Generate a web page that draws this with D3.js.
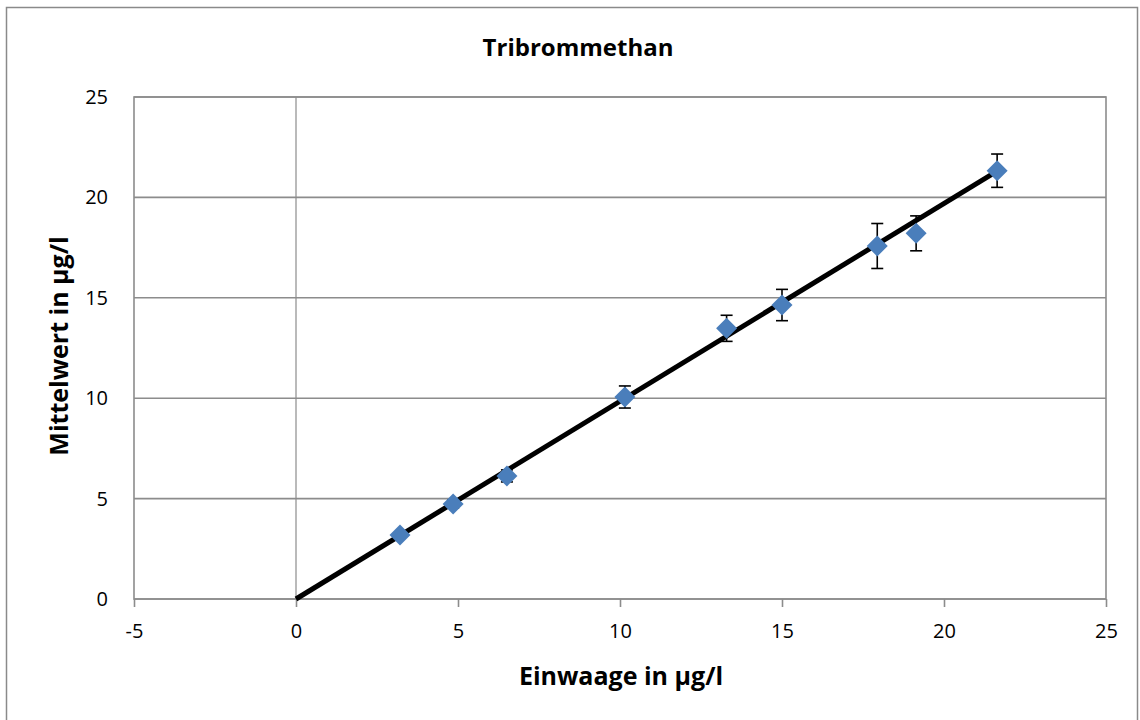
<!DOCTYPE html>
<html>
<head>
<meta charset="utf-8">
<script src="https://cdn.jsdelivr.net/npm/d3@7"></script>
<style>
  body { margin: 0; background: #fff; }
  text { font-family: "Open Sans", "Noto Sans", sans-serif; }
</style>
</head>
<body>
<svg id="chart" width="1140" height="720"></svg>
<script>
// data
var einwaage   = [3.21, 4.85, 6.51, 10.15, 13.29, 15.0, 17.94, 19.14, 21.64];
var mittelwert = [3.19, 4.73, 6.13, 10.06, 13.48, 14.64, 17.58, 18.21, 21.33];
var fehler     = [0.15, 0.2, 0.3, 0.55, 0.65, 0.78, 1.12, 0.87, 0.83];
var xTicks = [-5, 0, 5, 10, 15, 20, 25];
var yTicks = [0, 5, 10, 15, 20, 25];
var trendSlope = 0.985;
var trendX = [0, 21.6];

var svg = d3.select("#chart"),
    margin = {top: 97, right: 34, bottom: 121, left: 134},
    width = 1140 - margin.left - margin.right,
    height = 720 - margin.top - margin.bottom;

// outer chart frame (runs off the bottom of the picture)
svg.append("rect")
  .attr("x", 6.5).attr("y", 7.5)
  .attr("width", 1131).attr("height", 740)
  .attr("fill", "none")
  .attr("stroke", "#8a8a8a")
  .attr("stroke-width", 1.5);

var x = d3.scaleLinear().domain([-5, 25]).range([0, width]),
    y = d3.scaleLinear().domain([0, 25]).range([height, 0]);

var g = svg.append("g")
  .attr("transform", "translate(" + margin.left + "," + margin.top + ")");

// horizontal grid lines
g.selectAll(".grid")
  .data(yTicks)
  .enter().append("line")
    .attr("class", "grid")
    .attr("x1", 0).attr("x2", width)
    .attr("y1", function(d) { return y(d); })
    .attr("y2", function(d) { return y(d); })
    .attr("stroke", "#8c8c8c")
    .attr("stroke-width", 1.6);

// plot area border
g.append("rect")
  .attr("width", width).attr("height", height)
  .attr("fill", "none")
  .attr("stroke", "#8c8c8c")
  .attr("stroke-width", 1.6);

// vertical axis crossing at 0
g.append("line")
  .attr("x1", x(0)).attr("x2", x(0))
  .attr("y1", 0).attr("y2", height)
  .attr("stroke", "#8c8c8c")
  .attr("stroke-width", 1.2);

// x axis ticks + labels (plain hyphen for negatives like the original)
var fmt = function(d) { return String(d); };
var xAxis = g.append("g")
  .attr("transform", "translate(0," + height + ")")
  .call(d3.axisBottom(x).tickValues(xTicks).tickFormat(fmt).tickSize(8).tickPadding(17));
xAxis.select(".domain").remove();
xAxis.selectAll("line").attr("stroke", "#8c8c8c").attr("stroke-width", 1.6);
xAxis.selectAll("text").attr("font-size", "20px").attr("fill", "#000");

// y axis labels
var yAxis = g.append("g")
  .call(d3.axisLeft(y).tickValues(yTicks).tickFormat(fmt).tickSize(0).tickPadding(26));
yAxis.select(".domain").remove();
yAxis.selectAll("text").attr("font-size", "20px").attr("fill", "#000");

// trend line
g.append("line")
  .attr("x1", x(trendX[0])).attr("y1", y(trendX[0] * trendSlope))
  .attr("x2", x(trendX[1])).attr("y2", y(trendX[1] * trendSlope))
  .attr("stroke", "#000")
  .attr("stroke-width", 5);

var pts = einwaage.map(function(d, i) {
  return {x: d, y: mittelwert[i], e: fehler[i]};
});

// error bars
var eb = g.selectAll(".err")
  .data(pts)
  .enter().append("g")
    .attr("class", "err")
    .attr("stroke", "#000")
    .attr("stroke-width", 1.6);
eb.append("line")
  .attr("x1", function(d) { return x(d.x); })
  .attr("x2", function(d) { return x(d.x); })
  .attr("y1", function(d) { return y(d.y + d.e); })
  .attr("y2", function(d) { return y(d.y - d.e); });
eb.append("line")
  .attr("x1", function(d) { return x(d.x) - 6; })
  .attr("x2", function(d) { return x(d.x) + 6; })
  .attr("y1", function(d) { return y(d.y + d.e); })
  .attr("y2", function(d) { return y(d.y + d.e); });
eb.append("line")
  .attr("x1", function(d) { return x(d.x) - 6; })
  .attr("x2", function(d) { return x(d.x) + 6; })
  .attr("y1", function(d) { return y(d.y - d.e); })
  .attr("y2", function(d) { return y(d.y - d.e); });

// diamond markers
g.selectAll(".pt")
  .data(pts)
  .enter().append("path")
    .attr("class", "pt")
    .attr("d", "M0,-10.5L10.5,0L0,10.5L-10.5,0Z")
    .attr("transform", function(d) { return "translate(" + x(d.x) + "," + y(d.y) + ")"; })
    .attr("fill", "#4a7ebb");

// title and axis titles
svg.append("text")
  .attr("x", 578).attr("y", 56)
  .attr("text-anchor", "middle")
  .attr("font-size", "24px").attr("font-weight", "bold")
  .text("Tribrommethan");

svg.append("text")
  .attr("x", 621).attr("y", 685)
  .attr("text-anchor", "middle")
  .attr("font-size", "25px").attr("font-weight", "bold")
  .text("Einwaage in µg/l");

svg.append("text")
  .attr("transform", "translate(68," + (margin.top + height / 2 - 2) + ") rotate(-90)")
  .attr("text-anchor", "middle")
  .attr("font-size", "25px").attr("font-weight", "bold")
  .text("Mittelwert in µg/l");
</script>
</body>
</html>
